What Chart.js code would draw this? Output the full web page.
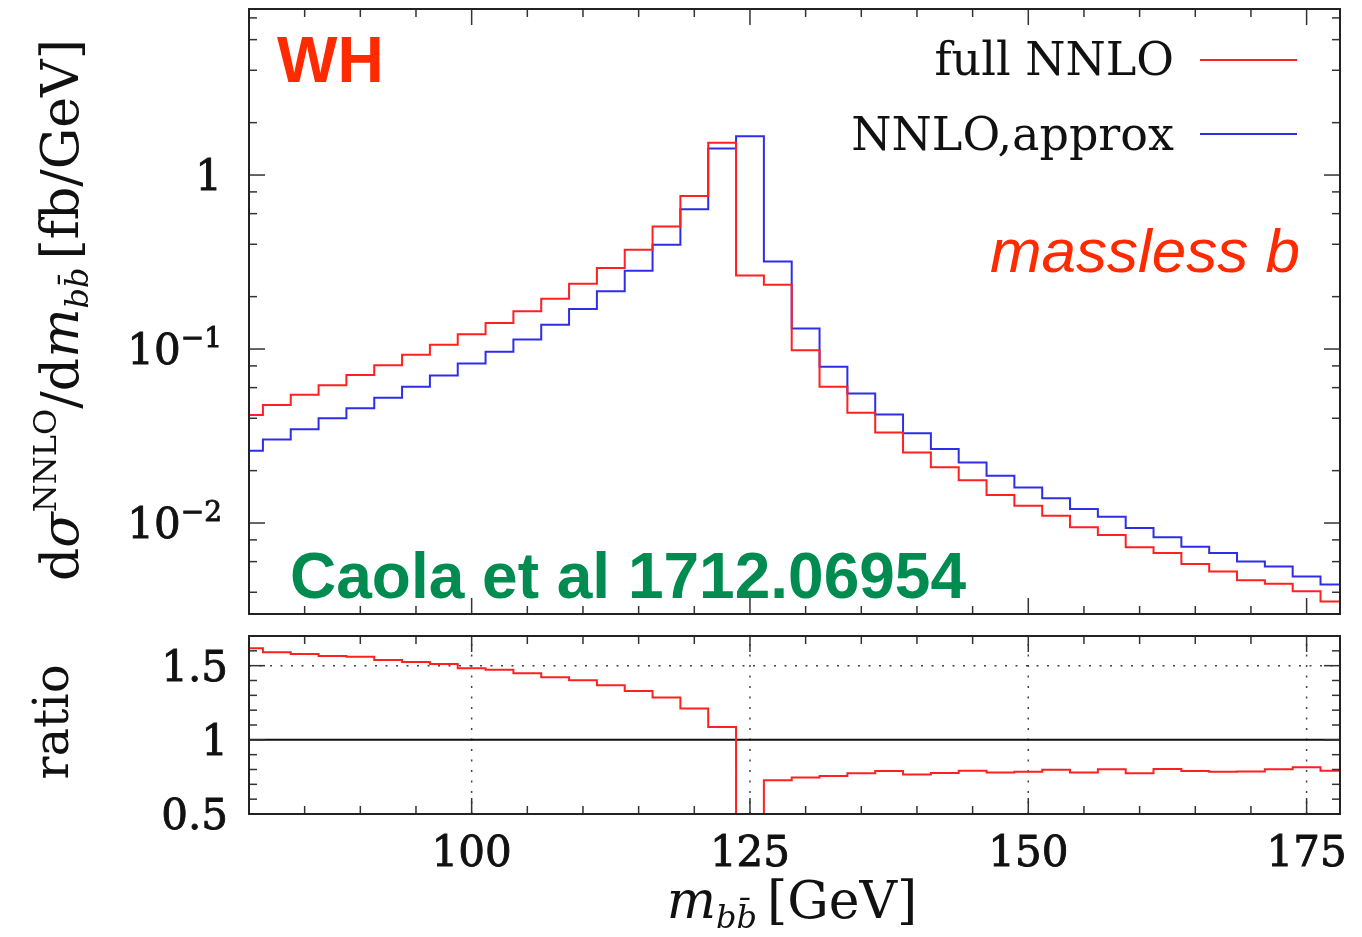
<!DOCTYPE html>
<html><head><meta charset="utf-8">
<script src="https://cdn.jsdelivr.net/npm/chart.js@4.4.0/dist/chart.umd.min.js"></script>
<style>
html,body{margin:0;padding:0;background:#fff;}
#wrap{position:relative;width:1362px;height:937px;background:#fff;}
#c1box{position:absolute;left:0;top:0;width:1362px;height:625px;}
#c2box{position:absolute;left:0;top:625px;width:1362px;height:312px;}
</style></head><body>
<div id="wrap"><div id="c1box"><canvas id="main"></canvas></div><div id="c2box"><canvas id="ratio"></canvas></div></div>
<script>
// ---- data (bin edges in GeV, 2.5 GeV bins) ----
const binEdges = [78.75, 81.25, 83.75, 86.25, 88.75, 91.25, 93.75, 96.25, 98.75, 101.25,
  103.75, 106.25, 108.75, 111.25, 113.75, 116.25, 118.75, 121.25, 123.75, 126.25,
  128.75, 131.25, 133.75, 136.25, 138.75, 141.25, 143.75, 146.25, 148.75, 151.25,
  153.75, 156.25, 158.75, 161.25, 163.75, 166.25, 168.75, 171.25, 173.75, 176.25, 178.75];
const fullNNLO = [0.0418, 0.0476, 0.0546, 0.0620, 0.0708, 0.0808, 0.0927, 0.1057, 0.1216, 0.1413,
  0.1648, 0.1946, 0.2373, 0.2918, 0.3716, 0.5058, 0.758, 1.531, 0.265, 0.234,
  0.0985, 0.0607, 0.0431, 0.0331, 0.0254, 0.0209, 0.0176, 0.0145, 0.01256, 0.0110,
  0.00945, 0.00854, 0.00726, 0.00673, 0.00582, 0.00526, 0.00469, 0.00447, 0.00406, 0.00354];
const nnloApprox = [0.0260, 0.0302, 0.0346, 0.0400, 0.0456, 0.0525, 0.0607, 0.0705, 0.0826, 0.0964,
  0.1134, 0.138, 0.170, 0.2145, 0.2817, 0.397, 0.636, 1.422, 1.673, 0.3186,
  0.131, 0.0791, 0.0556, 0.0421, 0.0328, 0.0266, 0.0223, 0.0187, 0.0160, 0.0139,
  0.01203, 0.01087, 0.00936, 0.00828, 0.00731, 0.00673, 0.00600, 0.00562, 0.00492, 0.00443];
const ratioValues = [1.617, 1.590, 1.579, 1.565, 1.560, 1.538, 1.525, 1.511, 1.482, 1.473,
  1.449, 1.422, 1.402, 1.368, 1.330, 1.285, 1.211, 1.087, 0.16, 0.728,
  0.746, 0.757, 0.774, 0.790, 0.767, 0.776, 0.792, 0.780, 0.785, 0.799,
  0.780, 0.801, 0.774, 0.803, 0.790, 0.785, 0.787, 0.801, 0.815, 0.792];
const xTickLabels = [100, 125, 150, 175];
const yMainTicks = [1, 0.1, 0.01];
const yRatioTicks = [1.5, 1, 0.5];

const SERIF = '"DejaVu Serif", serif';
const SANS = '"Liberation Sans", Arial, sans-serif';
const RED = '#ff2020';
const BLUE = '#2e2ee8';

function stepPoints(vals) {
  const pts = vals.map((v, i) => ({x: binEdges[i], y: v}));
  pts.push({x: binEdges[vals.length], y: vals[vals.length - 1]});
  return pts;
}
function seg(ctx, x1, y1, x2, y2) { ctx.beginPath(); ctx.moveTo(x1, y1); ctx.lineTo(x2, y2); ctx.stroke(); }
function richWidth(ctx, parts) {
  let w = 0;
  for (const p of parts) { ctx.font = p.font; w += ctx.measureText(p.t).width + (p.gap || 0); }
  return w;
}
function drawRich(ctx, parts, x, y, align, bold) {
  const w = richWidth(ctx, parts);
  let cx = align === 'right' ? x - w : align === 'center' ? x - w / 2 : x;
  ctx.textAlign = 'left'; ctx.textBaseline = 'alphabetic';
  for (const p of parts) {
    ctx.font = p.font;
    ctx.fillText(p.t, cx, y + (p.dy || 0));
    if (bold) ctx.strokeText(p.t, cx, y + (p.dy || 0));
    cx += ctx.measureText(p.t).width + (p.gap || 0);
  }
}
function xTicks(ctx, xs, a) {
  ctx.strokeStyle = '#333'; ctx.lineWidth = 1.5;
  for (let v = 85; v < 178; v += 5) {
    const px = xs.getPixelForValue(v);
    const len = xTickLabels.includes(v) ? 16 : 8;
    seg(ctx, px, a.top, px, a.top + len);
    seg(ctx, px, a.bottom, px, a.bottom - len);
  }
}

const mainDeco = {
  id: 'mainDeco',
  afterDatasetsDraw(chart) {
    const {ctx, chartArea: a, scales: {x, y}} = chart;
    ctx.save();
    xTicks(ctx, x, a);
    for (const d of [0.001, 0.01, 0.1, 1]) {
      for (const m of [1, 2, 4, 6, 8]) {
        const v = d * m;
        if (v <= y.min || v >= y.max) continue;
        const py = y.getPixelForValue(v);
        const len = m === 1 ? 16 : 8;
        seg(ctx, a.left, py, a.left + len, py);
        seg(ctx, a.right, py, a.right - len, py);
      }
    }
    ctx.lineWidth = 2; ctx.strokeStyle = '#222';
    ctx.strokeRect(a.left, a.top, a.right - a.left, a.bottom - a.top);

    // y tick labels
    ctx.fillStyle = '#111'; ctx.strokeStyle = '#111'; ctx.lineWidth = 0.9;
    for (const v of yMainTicks) {
      const py = y.getPixelForValue(v);
      let parts;
      if (v === 1) parts = [{t: '1', font: '42px ' + SERIF}];
      else {
        const e = Math.round(Math.log10(v));
        parts = [{t: '10', font: '42px ' + SERIF}, {t: '\u2212' + Math.abs(e), font: '28px ' + SERIF, dy: -17}];
      }
      drawRich(ctx, parts, 222, py + 15, 'right', true);
    }
    // y title
    ctx.save();
    ctx.translate(78, 310);
    ctx.rotate(-Math.PI / 2);
    drawRich(ctx, [
      {t: 'd', font: '52px ' + SERIF},
      {t: '\u03c3', font: 'italic 52px ' + SERIF},
      {t: 'NNLO', font: '32px ' + SERIF, dy: -22},
      {t: '/d', font: '52px ' + SERIF},
      {t: 'm', font: 'italic 52px ' + SERIF},
      {t: 'b', font: 'italic 32px ' + SERIF, dy: 10},
      {t: 'b\u0304', font: 'italic 32px ' + SERIF, dy: 10, gap: 8},
      {t: '[fb/GeV]', font: '52px ' + SERIF}
    ], 0, 0, 'center');
    ctx.restore();

    // legend
    ctx.fillStyle = '#111';
    ctx.font = '46px ' + SERIF; ctx.textAlign = 'right'; ctx.textBaseline = 'alphabetic';
    ctx.fillText('full NNLO', 1174, 75);
    ctx.fillText('NNLO,approx', 1174, 150);
    ctx.lineWidth = 2;
    ctx.strokeStyle = RED; seg(ctx, 1200, 60, 1297, 60);
    ctx.strokeStyle = BLUE; seg(ctx, 1200, 134, 1297, 134);

    // annotations
    ctx.textAlign = 'left';
    ctx.fillStyle = '#ff2a00';
    ctx.font = 'bold 64px ' + SANS;
    ctx.fillText('WH', 277, 82);
    ctx.font = 'italic 62px ' + SANS; ctx.textAlign = 'right';
    ctx.fillText('massless b', 1300, 272);
    ctx.textAlign = 'left';
    ctx.fillStyle = '#008c50';
    ctx.font = 'bold 64px ' + SANS;
    ctx.fillText('Caola et al 1712.06954', 290, 598);
    ctx.restore();
  }
};

const ratioDeco = {
  id: 'ratioDeco',
  beforeDatasetsDraw(chart) {
    const {ctx, chartArea: a, scales: {x, y}} = chart;
    ctx.save();
    ctx.strokeStyle = '#444'; ctx.lineWidth = 1.5; ctx.setLineDash([2, 8.5]);
    for (const v of xTickLabels) {
      const px = x.getPixelForValue(v);
      seg(ctx, px, a.bottom, px, a.top);
    }
    const p15 = y.getPixelForValue(1.5);
    seg(ctx, a.left, p15, a.right, p15);
    ctx.setLineDash([]);
    ctx.strokeStyle = '#111'; ctx.lineWidth = 2;
    const p1 = y.getPixelForValue(1);
    seg(ctx, a.left, p1, a.right, p1);
    ctx.restore();
  },
  afterDatasetsDraw(chart) {
    const {ctx, chartArea: a, scales: {x, y}} = chart;
    ctx.save();
    xTicks(ctx, x, a);
    for (let i = 6; i <= 16; i++) {
      const v = i / 10;
      const py = y.getPixelForValue(v);
      const len = (i === 10 || i === 15) ? 16 : 8;
      seg(ctx, a.left, py, a.left + len, py);
      seg(ctx, a.right, py, a.right - len, py);
    }
    ctx.lineWidth = 2; ctx.strokeStyle = '#222';
    ctx.strokeRect(a.left, a.top, a.right - a.left, a.bottom - a.top);

    ctx.fillStyle = '#111'; ctx.strokeStyle = '#111'; ctx.lineWidth = 0.9;
    ctx.font = '42px ' + SERIF; ctx.textBaseline = 'alphabetic';
    ctx.textAlign = 'right';
    for (const v of yRatioTicks) {
      const py = y.getPixelForValue(v);
      ctx.fillText(String(v), 228, py + 15);
      ctx.strokeText(String(v), 228, py + 15);
    }
    ctx.textAlign = 'center';
    for (const v of xTickLabels) {
      ctx.fillText(String(v), x.getPixelForValue(v), a.bottom + 52);
      ctx.strokeText(String(v), x.getPixelForValue(v), a.bottom + 52);
    }
    drawRich(ctx, [
      {t: 'm', font: 'italic 52px ' + SERIF},
      {t: 'b', font: 'italic 32px ' + SERIF, dy: 10},
      {t: 'b\u0304', font: 'italic 32px ' + SERIF, dy: 10, gap: 10},
      {t: '[GeV]', font: '52px ' + SERIF}
    ], 792, a.bottom + 104, 'center');
    ctx.save();
    ctx.translate(68, (a.top + a.bottom) / 2 - 3);
    ctx.rotate(-Math.PI / 2);
    ctx.font = '48px ' + SERIF; ctx.textAlign = 'center';
    ctx.fillText('ratio', 0, 0);
    ctx.restore();
    ctx.restore();
  }
};

const lineDs = (label, vals, color) => ({
  label, data: stepPoints(vals), borderColor: color, borderWidth: 2,
  stepped: true, fill: false, pointRadius: 0, tension: 0
});

new Chart(document.getElementById('main'), {
  type: 'line',
  data: {datasets: [lineDs('full NNLO', fullNNLO, RED), lineDs('NNLO,approx', nnloApprox, BLUE)]},
  options: {
    responsive: true, maintainAspectRatio: false, animation: false,
    layout: {padding: {left: 249, right: 22, top: 9, bottom: 11}},
    scales: {
      x: {type: 'linear', min: 80, max: 178, display: false},
      y: {type: 'logarithmic', min: 0.003, max: 9, display: false}
    },
    plugins: {legend: {display: false}, tooltip: {enabled: false}}
  },
  plugins: [mainDeco]
});

new Chart(document.getElementById('ratio'), {
  type: 'line',
  data: {datasets: [lineDs('ratio', ratioValues, RED)]},
  options: {
    responsive: true, maintainAspectRatio: false, animation: false,
    layout: {padding: {left: 249, right: 22, top: 11, bottom: 123}},
    scales: {
      x: {type: 'linear', min: 80, max: 178, display: false},
      y: {type: 'linear', min: 0.5, max: 1.7, display: false}
    },
    plugins: {legend: {display: false}, tooltip: {enabled: false}}
  },
  plugins: [ratioDeco]
});
</script>
</body></html>
